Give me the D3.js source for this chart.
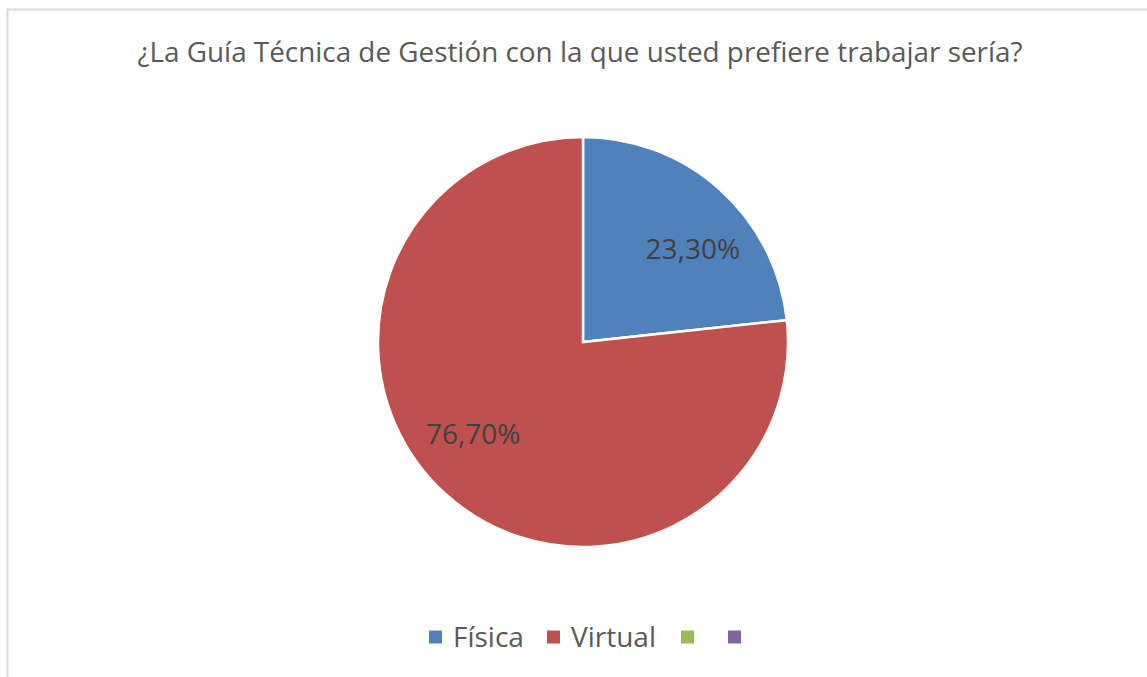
<!DOCTYPE html>
<html>
<head>
<meta charset="utf-8">
<script src="https://cdn.jsdelivr.net/npm/d3@7"></script>
<style>
  body { margin: 0; background: #fff; }
  svg text { font-family: "Open Sans", sans-serif; fill: #595959; }
</style>
</head>
<body>
<svg id="chart" width="1147" height="677"></svg>
<script>
const title = '¿La Guía Técnica de Gestión con la que usted prefiere trabajar sería?';
const categories = ['Física', 'Virtual', '', ''];
const values = [23.3, 76.7, 0, 0];
const labels = ['23,30%', '76,70%'];
const colors = ['#4f81bd', '#c0504d', '#9bbb59', '#8064a2'];

const svg = d3.select('#chart');

// chart frame
svg.append('rect')
    .attr('x', 7.5).attr('y', 9.5)
    .attr('width', 1150).attr('height', 700)
    .attr('fill', 'none')
    .attr('stroke', '#d9d9d9')
    .attr('stroke-width', 2);

svg.append('text')
    .attr('x', 580).attr('y', 62)
    .attr('text-anchor', 'middle')
    .attr('textLength', 885)
    .attr('lengthAdjust', 'spacingAndGlyphs')
    .style('font-size', '27px')
    .text(title);

const cx = 583, cy = 342, radius = 205;

const data = categories.map((c, i) => ({ name: c, value: values[i], color: colors[i], label: labels[i] }));

const pie = d3.pie().sort(null).value(d => d.value);
const arc = d3.arc().innerRadius(0).outerRadius(radius);

const g = svg.append('g').attr('transform', `translate(${cx},${cy})`);
const arcs = pie(data).filter(d => d.data.value > 0);

g.selectAll('path')
    .data(arcs)
    .join('path')
    .attr('d', arc)
    .attr('fill', d => d.data.color)
    .attr('stroke', '#fff')
    .attr('stroke-width', 2.5);

// data labels, placed a bit clockwise of the mid angle like the original
const labelR = radius * 0.7;
const shift = 8 * Math.PI / 180;
g.selectAll('text.lbl')
    .data(arcs)
    .join('text')
    .attr('class', 'lbl')
    .attr('transform', d => {
        const a = (d.startAngle + d.endAngle) / 2 + shift;
        return `translate(${labelR * Math.sin(a)},${-labelR * Math.cos(a)})`;
    })
    .attr('text-anchor', 'middle')
    .attr('dy', '0.35em')
    .style('font-size', '28px')
    .style('fill', '#404040')
    .text(d => d.data.label);

// legend
const legendX = [429, 547, 681, 728];
const legend = svg.append('g').attr('transform', 'translate(0,637)');
const items = legend.selectAll('g')
    .data(data)
    .join('g')
    .attr('transform', (d, i) => `translate(${legendX[i]},0)`);
items.append('rect')
    .attr('x', 0).attr('y', -6.5)
    .attr('width', 13).attr('height', 13)
    .attr('fill', d => d.color);
items.append('text')
    .attr('x', 24).attr('dy', '0.35em')
    .style('font-size', '28px')
    .text(d => d.name);
</script>
</body>
</html>
